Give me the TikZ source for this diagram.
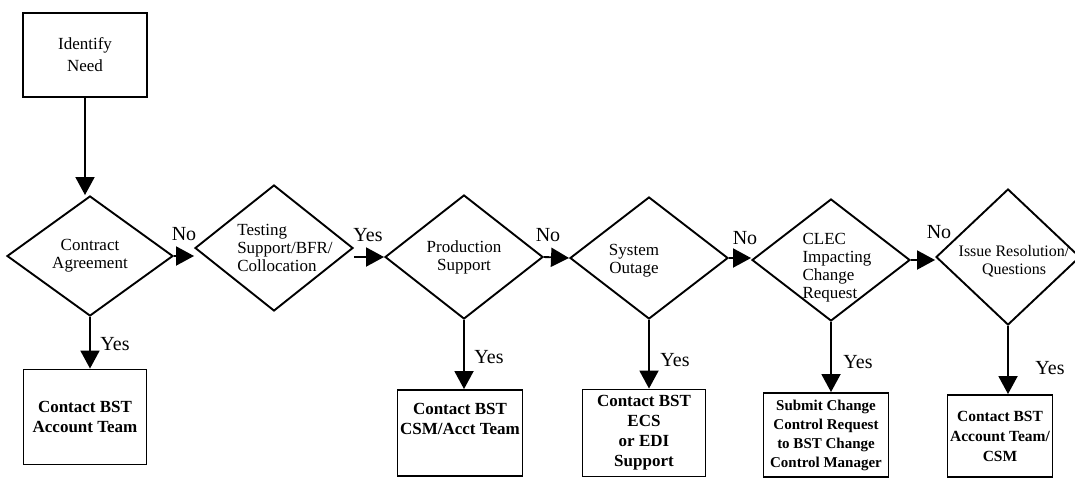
\documentclass[tikz,border=0pt]{standalone}
\usepackage{fontspec}
\setmainfont{Liberation Serif}
\usetikzlibrary{arrows.meta,shapes.geometric}

\begin{document}
\begin{tikzpicture}[x=1pt, y=-1pt,
    box/.style={draw, line width=1.9pt, align=center, inner sep=1pt, font=\fontsize{17}{20}\selectfont\bfseries},
    dec/.style={draw, diamond, line width=1.9pt, inner sep=0pt, minimum width=158pt, minimum height=124pt},
    dtxt/.style={align=center, font=\fontsize{17}{18}\selectfont},
    yn/.style={font=\fontsize{20}{20}\selectfont},
    arr/.style={-{Triangle[width=19pt,length=18pt]}, line width=1.9pt}
]
\useasboundingbox (0,0) rectangle (1075,479);

% start
\node[box, minimum width=124pt, minimum height=84pt, font=\fontsize{17}{22}\selectfont] (need) at (85,55) {Identify\\Need};

% decisions
\node[dec, minimum width=166pt, minimum height=120pt, label={[dtxt]center:{Contract\\Agreement}}] (d1) at (90,256) {};
\node[dec, minimum height=126pt, label={[dtxt, align=left, xshift=11pt]center:{Testing\\Support/BFR/\\Collocation}}] (d2) at (274,248) {};
\node[dec, label={[dtxt]center:{Production\\Support}}] (d3) at (464,257) {};
\node[dec, minimum height=122pt, label={[dtxt, xshift=-15pt, yshift=-3pt]center:{System\\Outage}}] (d4) at (649,258) {};
\node[dec, minimum height=122pt, label={[dtxt, align=left, xshift=6pt, yshift=-8pt]center:{CLEC\\Impacting\\Change\\Request}}] (d5) at (831,260) {};
\node[dec, minimum width=144pt, minimum height=136pt, label={[dtxt, font=\fontsize{16}{18}\selectfont, xshift=6pt, yshift=-4pt]center:{Issue Resolution/\\Questions}}] (d6) at (1008,257) {};

% outcomes
\node[box, minimum width=123pt, minimum height=95pt] (r1) at (85,417) {Contact BST\\Account Team};
\node[box, minimum width=125pt, minimum height=86pt] (r3) at (460,433) {Contact BST\\CSM/Acct Team\\[8pt]};
\node[box, minimum width=123pt, minimum height=87pt] (r4) at (644,433) {Contact BST\\ECS\\or EDI\\Support};
\node[box, minimum width=125pt, minimum height=84pt, font=\fontsize{15}{19}\selectfont\bfseries] (r5) at (826,435) {Submit Change\\Control Request\\to BST Change\\Control Manager};
\node[box, minimum width=105pt, minimum height=82pt, font=\fontsize{15.5}{20}\selectfont\bfseries] (r6) at (1000,436) {Contact BST\\Account Team/\\CSM};

% answers
\node[yn] (no1) at (184,234) {No};
\node[yn] (yes2) at (368,235) {Yes};
\node[yn] (no3) at (548,235) {No};
\node[yn] (no4) at (745,238) {No};
\node[yn] (no5) at (939,232) {No};
\node[yn] (yes1) at (115,344) {Yes};
\node[yn] (yes3) at (489,357) {Yes};
\node[yn] (yes4) at (675,360) {Yes};
\node[yn] (yes5) at (858,362) {Yes};
\node[yn] (yes6) at (1050,368) {Yes};

\draw[arr] (need.south) -- (need.south |- d1.north);
\draw[arr] (d1.east) -- (d1.east -| d2.west);
\draw[arr] (d2.east |- d3.west) -- (d3.west);
\draw[arr] (d3.east) -- (d4.west);
\draw[arr] (d4.east) -- (d4.east -| d5.west);
\draw[arr] (d5.east) -- (d5.east -| d6.west);

\draw[arr] (d1.south) -- (d1.south |- r1.north);
\draw[arr] (d3.south) -- (d3.south |- r3.north);
\draw[arr] (d4.south) -- (d4.south |- r4.north);
\draw[arr] (d5.south) -- (d5.south |- r5.north);
\draw[arr] (d6.south) -- (d6.south |- r6.north);
\end{tikzpicture}
\end{document}
